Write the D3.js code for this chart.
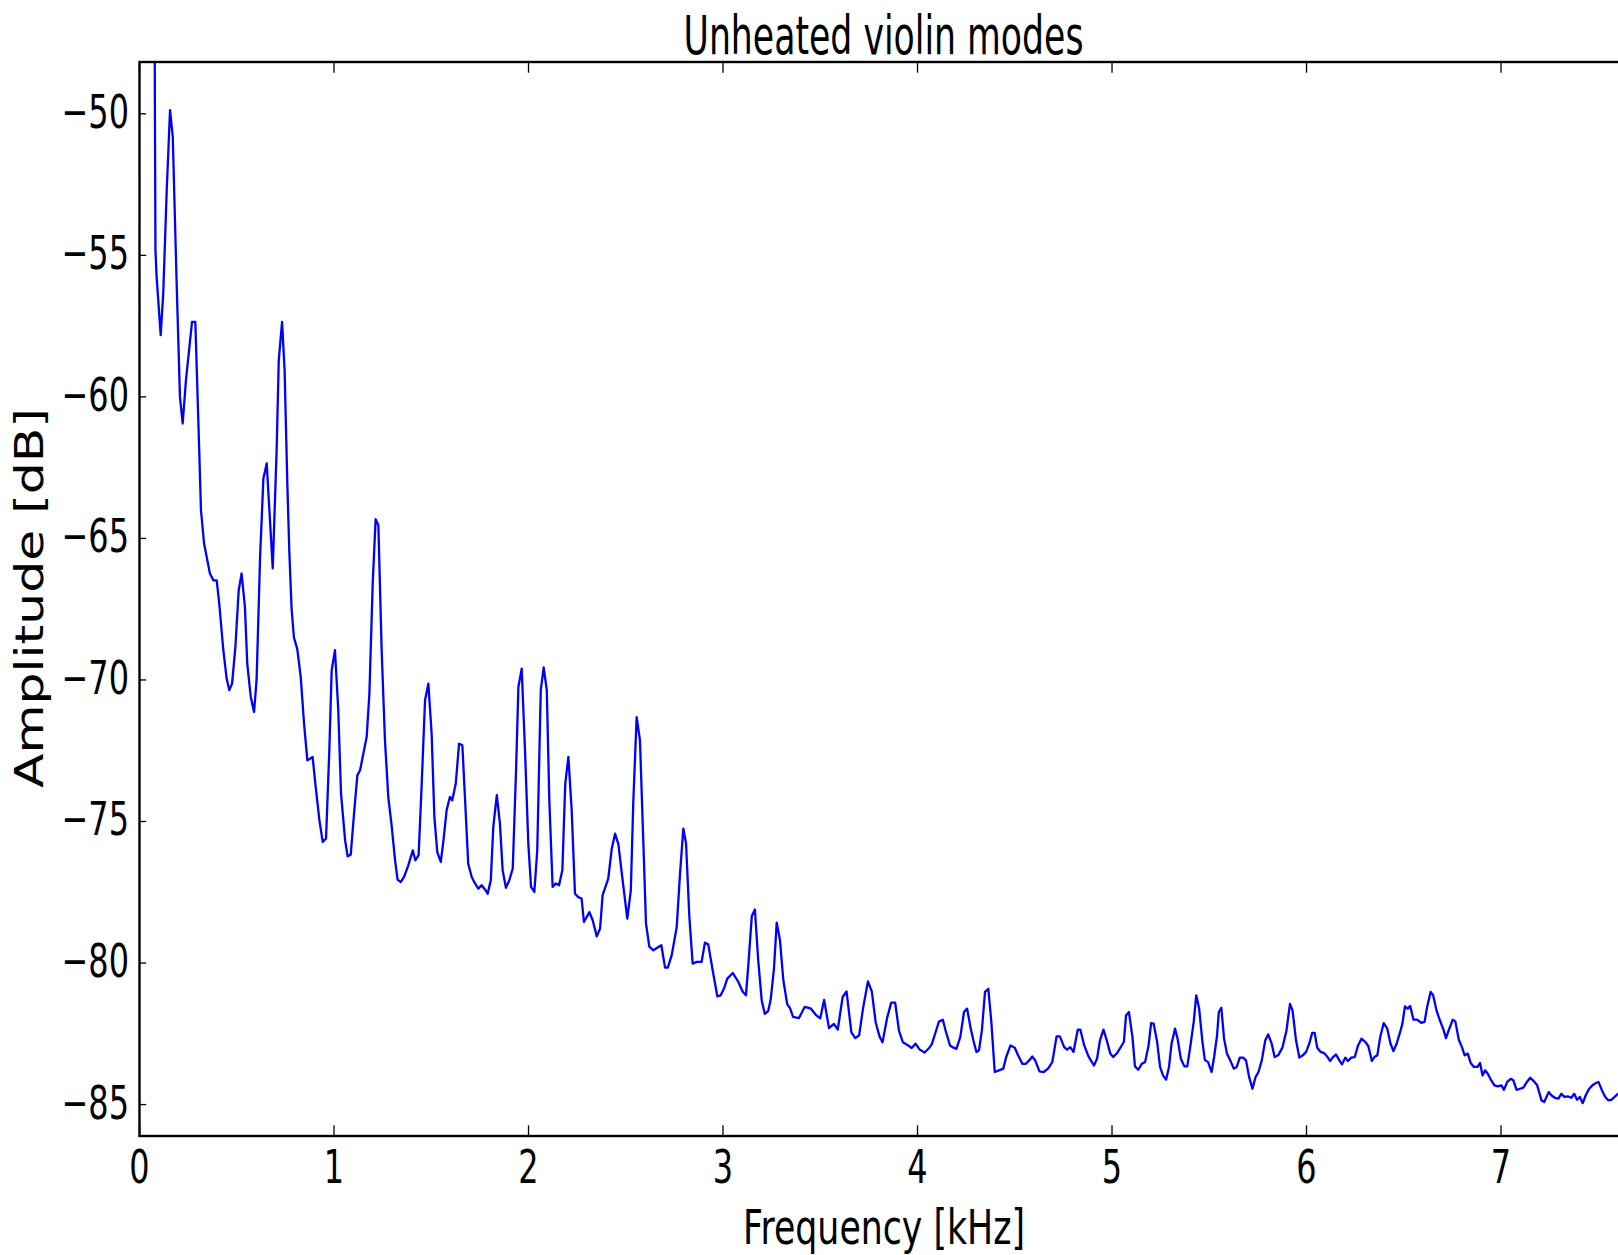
<!DOCTYPE html>
<html>
<head>
<meta charset="utf-8">
<script src="https://cdn.jsdelivr.net/npm/d3@7"></script>
<style>
  html, body { margin: 0; padding: 0; background: #fff; }
  svg { display: block; }
  text { font-family: "DejaVu Sans", sans-serif; fill: #000; }
</style>
</head>
<body>
<script>
// ---- data (frequency in kHz, amplitude in dB) ----
const freq = [
  0.074,0.082,0.088,0.109,0.122,0.140,0.157,0.171,0.191,0.208,0.222,0.239,0.270,0.287,0.307,0.316,0.332,0.362,0.380,0.397,
  0.410,0.431,0.448,0.462,0.476,0.493,0.510,0.525,0.542,0.554,0.572,0.589,0.602,0.620,0.637,0.654,0.685,0.705,0.716,0.733,
  0.746,0.760,0.770,0.782,0.794,0.811,0.829,0.846,0.863,0.890,0.904,0.925,0.942,0.959,0.976,0.988,1.005,1.022,1.036,1.057,
  1.070,1.086,1.103,1.120,1.134,1.151,1.168,1.182,1.199,1.214,1.228,1.245,1.262,1.279,1.297,1.314,1.327,1.343,1.360,1.382,
  1.405,1.418,1.435,1.451,1.468,1.485,1.502,1.516,1.531,1.549,1.562,1.579,1.596,1.608,1.626,1.643,1.660,1.674,1.690,1.708,
  1.725,1.742,1.759,1.776,1.790,1.806,1.819,1.837,1.853,1.867,1.884,1.901,1.919,1.936,1.948,1.965,1.982,1.999,2.013,2.030,
  2.045,2.063,2.078,2.094,2.107,2.124,2.140,2.157,2.174,2.189,2.205,2.222,2.239,2.256,2.273,2.285,2.313,2.330,2.351,2.368,
  2.381,2.410,2.428,2.445,2.462,2.484,2.508,2.526,2.539,2.556,2.573,2.590,2.604,2.621,2.642,2.662,2.683,2.702,2.716,2.736,
  2.762,2.779,2.796,2.810,2.827,2.844,2.865,2.890,2.907,2.924,2.950,2.971,2.988,3.005,3.022,3.050,3.079,3.102,3.118,3.130,
  3.148,3.164,3.181,3.199,3.215,3.232,3.245,3.262,3.276,3.293,3.310,3.330,3.345,3.360,3.390,3.420,3.450,3.480,3.500,3.520,
  3.545,3.570,3.590,3.615,3.635,3.660,3.680,3.700,3.720,3.745,3.765,3.785,3.805,3.820,3.845,3.865,3.885,3.905,3.925,3.950,
  3.970,3.990,4.010,4.036,4.060,4.073,4.095,4.110,4.130,4.145,
  4.167,4.185,4.200,4.220,4.239,4.255,4.272,4.287,4.303,4.316,4.331,4.347,4.364,4.379,4.397,4.419,4.441,4.456,4.478,4.500,
  4.517,4.539,4.557,4.574,4.590,4.605,4.627,4.649,4.671,4.693,4.715,4.732,4.754,4.769,4.785,4.802,4.824,4.837,4.857,4.879,
  4.907,4.923,4.938,4.956,4.973,4.991,5.006,5.026,5.061,5.072,5.087,5.105,5.118,5.135,5.153,5.170,5.188,5.201,5.214,5.232,
  5.247,5.262,5.278,5.293,5.306,5.324,5.337,5.354,5.372,5.387,5.402,5.420,5.433,5.448,5.464,5.477,5.494,5.512,5.525,5.540,
  5.549,5.562,5.576,5.591,5.608,5.626,5.641,5.657,5.674,5.689,5.705,5.722,5.738,5.753,5.770,5.788,5.803,5.821,5.836,5.854,
  5.876,5.897,5.915,5.928,5.946,5.963,5.981,5.998,6.014,6.029,6.042,6.055,6.073,6.090,6.108,6.121,6.134,6.152,6.169,6.182,
  6.200,6.213,6.230,6.248,6.265,6.283,6.303,6.318,6.336,6.349,6.364,6.379,6.397,6.415,6.432,6.447,6.463,6.480,6.493,6.506,
  6.520,6.533,6.550,6.568,6.590,6.607,6.620,6.638,6.651,6.669,6.686,6.704,6.717,6.734,6.752,6.765,6.783,6.800,6.813,6.829,
  6.844,6.861,6.879,6.892,6.905,6.918,6.932,6.949,6.966,6.984,7.002,7.015,7.032,7.050,7.063,7.080,7.098,7.115,7.133,7.150,
  7.168,7.186,7.208,7.222,7.245,7.260,7.277,7.295,7.310,7.326,7.343,7.361,7.376,7.391,7.405,7.420,7.435,7.453,7.470,7.488,
  7.501,7.519,7.536,7.551,7.567,7.584,7.601,7.640
];
const amp = [
  -40.0,-54.8,-55.76,-57.82,-56.35,-52.7,-49.87,-50.81,-55.99,-60.0,-60.94,-59.4,-57.35,-57.35,-61.88,-64.0,-65.18,-66.24,-66.48,-66.48,
  -67.3,-68.95,-69.95,-70.36,-70.13,-68.83,-66.83,-66.24,-67.42,-69.42,-70.6,-71.13,-70.0,-65.65,-62.88,-62.35,-66.06,-61.88,-58.7,-57.35,
  -59.06,-63.06,-65.42,-67.5,-68.5,-68.9,-69.9,-71.54,-72.84,-72.72,-73.66,-74.96,-75.72,-75.6,-72.48,-69.66,-68.95,-71.07,-74.01,-75.66,
  -76.23,-76.17,-74.72,-73.37,-73.19,-72.6,-72.01,-70.48,-66.59,-64.32,-64.53,-68.95,-72.13,-74.13,-75.19,-76.37,-77.05,-77.14,-76.96,-76.55,
  -76.02,-76.37,-76.19,-73.66,-70.72,-70.13,-71.9,-74.84,-76.08,-76.43,-75.72,-74.6,-74.13,-74.25,-73.66,-72.25,-72.31,-74.25,-76.49,-76.96,
  -77.19,-77.37,-77.25,-77.4,-77.55,-77.08,-75.19,-74.07,-75.07,-76.72,-77.34,-77.08,-76.66,-73.19,-70.25,-69.6,-72.48,-75.78,-77.31,-77.49,
  -76.02,-70.36,-69.56,-70.36,-74.25,-77.31,-77.19,-77.25,-76.72,-73.66,-72.72,-74.6,-77.55,-77.67,-77.72,-78.55,-78.2,-78.49,-79.06,-78.78,
  -77.6,-77.02,-75.96,-75.43,-75.8,-77.08,-78.43,-77.43,-74.25,-71.31,-72.13,-75.66,-78.6,-79.42,-79.55,-79.46,-79.37,-80.16,-80.16,-79.73,
  -78.73,-76.84,-75.25,-75.78,-78.37,-80.02,-79.96,-79.96,-79.28,-79.34,-80.38,-81.18,-81.14,-80.9,-80.55,-80.35,-80.67,-81.02,-81.14,-80.08,
  -78.35,-78.11,-79.9,-81.32,-81.8,-81.7,-81.3,-80.2,-78.57,-79.2,-80.6,-81.45,-81.6,-81.9,-81.95,-81.55,-81.6,-81.85,-81.95,-81.3,
  -82.3,-82.15,-82.35,-81.2,-81.0,-82.45,-82.65,-82.55,-81.6,-80.65,-81.0,-82.1,-82.6,-82.8,-81.9,-81.4,-81.4,-82.4,-82.8,-82.9,
  -83.0,-82.85,-83.05,-83.16,-83.0,-82.87,-82.4,-82.07,-82.0,-82.4,
  -82.91,-82.99,-83.03,-82.61,-81.73,-81.61,-82.26,-82.73,-83.14,-83.08,-82.38,-81.02,-80.91,-82.03,-83.85,-83.79,-83.73,-83.32,-82.91,-82.99,
  -83.26,-83.56,-83.56,-83.44,-83.3,-83.44,-83.83,-83.85,-83.73,-83.5,-82.59,-82.59,-82.97,-83.06,-82.97,-83.14,-82.35,-82.35,-82.91,-83.3,
  -83.62,-83.38,-82.73,-82.35,-82.73,-83.2,-83.32,-83.18,-82.79,-81.85,-81.73,-82.61,-83.65,-83.77,-83.56,-83.5,-82.91,-82.12,-82.14,-82.79,
  -83.67,-83.97,-84.12,-83.67,-82.85,-82.32,-82.67,-83.38,-83.65,-83.65,-82.97,-82.08,-81.14,-81.61,-82.73,-83.42,-83.5,-83.85,-83.32,-82.56,
  -81.73,-81.58,-82.67,-83.2,-83.44,-83.73,-83.67,-83.34,-83.34,-83.44,-84.03,-84.44,-84.03,-83.85,-83.44,-82.73,-82.52,-82.85,-83.32,-83.26,
  -82.99,-82.38,-81.44,-81.67,-82.73,-83.34,-83.26,-83.14,-82.85,-82.47,-82.47,-82.99,-83.14,-83.18,-83.32,-83.46,-83.34,-83.23,-83.44,-83.58,
  -83.34,-83.46,-83.34,-83.32,-82.91,-82.67,-82.79,-82.94,-83.46,-83.32,-83.26,-82.61,-82.12,-82.32,-82.85,-83.11,-82.85,-82.47,-82.14,-81.53,
  -81.61,-81.52,-82.0,-82.0,-82.11,-82.08,-81.55,-81.02,-81.14,-81.69,-82.03,-82.35,-82.65,-82.32,-82.0,-82.06,-82.71,-82.99,-83.26,-83.2,
  -83.53,-83.67,-83.67,-83.53,-83.97,-83.79,-83.91,-84.14,-84.32,-84.36,-84.32,-84.48,-84.2,-84.09,-84.14,-84.48,-84.44,-84.4,-84.2,-84.05,
  -84.17,-84.32,-84.85,-84.91,-84.56,-84.68,-84.76,-84.79,-84.62,-84.73,-84.71,-84.76,-84.62,-84.83,-84.73,-84.95,-84.68,-84.44,-84.32,-84.24,
  -84.2,-84.5,-84.73,-84.85,-84.83,-84.73,-84.62,-84.7
];
const xTicks = [0, 1, 2, 3, 4, 5, 6, 7];
const yTicks = [-85, -80, -75, -70, -65, -60, -55, -50];
const titleText = "Unheated violin modes";
const xLabelText = "Frequency [kHz]";
const yLabelText = "Amplitude [dB]";

// ---- layout ----
const W = 1618, H = 1255;
const plotLeft = 139.5, plotRight = 1629.4, plotTop = 62, plotBottom = 1136;

const x = d3.scaleLinear().domain([0, 7.66]).range([plotLeft, plotRight]);
const y = d3.scaleLinear().domain([-86.11, -48.17]).range([plotBottom, plotTop]);

const svg = d3.select("body").append("svg")
  .attr("width", W).attr("height", H)
  .attr("viewBox", `0 0 ${W} ${H}`);

svg.append("rect").attr("width", W).attr("height", H).attr("fill", "#fff");

svg.append("clipPath").attr("id", "plotclip")
  .append("rect")
  .attr("x", plotLeft).attr("y", plotTop)
  .attr("width", plotRight - plotLeft).attr("height", plotBottom - plotTop);

// data line
const pts = freq.map((f, i) => [f, amp[i]]);
svg.append("path")
  .datum(pts)
  .attr("clip-path", "url(#plotclip)")
  .attr("fill", "none")
  .attr("stroke", "#0000ff")
  .attr("stroke-width", 2.3)
  .attr("stroke-linejoin", "round")
  .attr("d", d3.line().x(d => x(d[0])).y(d => y(d[1])));

// ticks (inward, all four sides)
const tickG = svg.append("g").attr("stroke", "#000").attr("stroke-width", 1.3);
xTicks.forEach(v => {
  tickG.append("line").attr("x1", x(v)).attr("x2", x(v)).attr("y1", plotBottom).attr("y2", plotBottom - 10.7);
  tickG.append("line").attr("x1", x(v)).attr("x2", x(v)).attr("y1", plotTop).attr("y2", plotTop + 10.7);
});
yTicks.forEach(v => {
  tickG.append("line").attr("x1", plotLeft).attr("x2", plotLeft + 6.7).attr("y1", y(v)).attr("y2", y(v));
  tickG.append("line").attr("x1", plotRight).attr("x2", plotRight - 6.7).attr("y1", y(v)).attr("y2", y(v));
});

// frame
svg.append("rect")
  .attr("x", plotLeft).attr("y", plotTop)
  .attr("width", plotRight - plotLeft).attr("height", plotBottom - plotTop)
  .attr("fill", "none").attr("stroke", "#000").attr("stroke-width", 2.4);

// tick labels
const fmt = v => (v < 0 ? "\u2212" + Math.abs(v) : String(v));
yTicks.forEach(v => {
  svg.append("g").attr("transform", `translate(129,${y(v) + 14})`)
    .append("text")
    .attr("transform", "scale(0.68,1)")
    .attr("text-anchor", "end")
    .attr("font-size", 47)
    .text(fmt(v));
});
xTicks.forEach(v => {
  svg.append("g").attr("transform", `translate(${x(v)},1183)`)
    .append("text")
    .attr("transform", "scale(0.68,1)")
    .attr("text-anchor", "middle")
    .attr("font-size", 47)
    .text(fmt(v));
});

// title
svg.append("text")
  .attr("x", 883.5).attr("y", 54)
  .attr("text-anchor", "middle")
  .attr("font-size", 54)
  .attr("textLength", 400).attr("lengthAdjust", "spacingAndGlyphs")
  .text(titleText);

// x label
svg.append("text")
  .attr("x", 884).attr("y", 1244)
  .attr("text-anchor", "middle")
  .attr("font-size", 48)
  .attr("textLength", 282).attr("lengthAdjust", "spacingAndGlyphs")
  .text(xLabelText);

// y label
svg.append("g").attr("transform", "translate(43.3,598) rotate(-90)")
  .append("text")
  .attr("text-anchor", "middle")
  .attr("font-size", 38.8)
  .attr("textLength", 380).attr("lengthAdjust", "spacingAndGlyphs")
  .text(yLabelText);
</script>
</body>
</html>
